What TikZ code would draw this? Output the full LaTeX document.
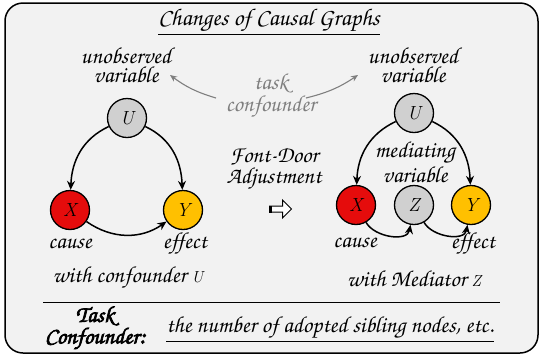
\documentclass[tikz,border=0pt]{standalone}
\usepackage[T1,TU]{fontenc}
\usetikzlibrary{arrows.meta,shapes.arrows}
\newcommand\chancery{\fontencoding{T1}\fontfamily{pzc}\fontseries{mb}\fontshape{it}\selectfont}
% plain italic for the variable letters in the captions
\newcommand\vletter[1]{{\normalfont\itshape\fontsize{16}{16}\selectfont #1}}
% stroked glyphs give the heavier weight the family lacks
\newcommand\heavy[1]{\special{pdf:literal direct 2 Tr 0.7 w}#1\special{pdf:literal direct 0 Tr}}
\definecolor{panel}{HTML}{F2F2F2}
\definecolor{causered}{HTML}{E50C0C}
\definecolor{effectyel}{HTML}{FFC000}
\definecolor{latentgray}{HTML}{D0D0D0}
\definecolor{notegray}{HTML}{7F7F7F}
\tikzset{
  var/.style={circle,draw=black,line width=1.3pt,minimum size=39pt,inner sep=0pt,font=\normalfont\itshape\fontsize{19}{19}\selectfont},
  lbl/.style={font=\chancery\fontsize{23}{18.5}\selectfont,align=center,inner sep=1pt},
  edge/.style={-{Stealth[length=9pt,width=8pt]},line width=1.5pt},
  noteedge/.style={-{Stealth[length=7pt,width=6pt]},line width=1.1pt,draw=notegray}
}
\begin{document}
\begin{tikzpicture}[x=1pt,y=-1pt]
\useasboundingbox (0,0) rectangle (542,360);
% outer panel
\draw[line width=1.5pt,fill=panel,rounded corners=18pt] (5,3) rectangle (538,353);
\node[lbl,font=\chancery\fontsize{24}{18}\selectfont] (title) at (269,22) {\underline{Changes of Causal Graphs}};

% left graph: confounder
\node[var,fill=latentgray] (U1) at (127,118) {U};
\node[var,fill=causered] (X1) at (70,210) {X};
\node[var,fill=effectyel] (Y1) at (183,210) {Y};
\node[lbl] (un1) at (126,65) {unobserved\\variable};
\node[lbl] (c1) at (70,244) {cause};
\node[lbl] (e1) at (185,244) {effect};
\node[lbl] (cap1) at (128,278) {with confounder \vletter{U}};
\draw[edge] (U1) to[out=205,in=88] (X1);
\draw[edge] (U1) to[out=-25,in=92] (Y1);
\draw[edge] (X1) to[out=-35,in=-145] (Y1);

% note in the middle, pointing at both latent labels
\node[lbl,text=notegray] (task) at (271,96) {task\\confounder};
\coordinate (tl) at (216,98);
\coordinate (tr) at (306,98);
\coordinate (ul) at (170,75);
\coordinate (ur) at (358,75);
\draw[noteedge] (tl) to[bend left=10] (ul);
\draw[noteedge] (tr) to[bend right=10] (ur);

% transform arrow
\node[lbl] (fda) at (274,169) {Font-Door\\Adjustment};
\node[single arrow,draw=black,fill=white,line width=1pt,minimum height=22pt,minimum width=18pt,single arrow head extend=3pt,inner sep=1pt] (blk) at (279,209) {};
\draw[line width=3pt] ([xshift=1.5pt]blk.before tail) -- ([xshift=1.5pt]blk.after tail);

% right graph: mediator
\node[var,fill=latentgray] (U2) at (414,113) {U};
\node[var,fill=causered] (X2) at (356,205) {X};
\node[var,fill=latentgray] (Z2) at (414,205) {Z};
\node[var,fill=effectyel] (Y2) at (471,205) {Y};
\node[lbl] (un2) at (413,65) {unobserved\\variable};
\node[lbl] (med) at (415,162) {mediating\\variable};
\node[lbl] (c2) at (355,243) {cause};
\node[lbl] (e2) at (473,244) {effect};
\node[lbl] (cap2) at (414,278) {with Mediator \vletter{Z}};
\draw[edge] (U2) to[out=205,in=88] (X2);
\draw[edge] (U2) to[out=-25,in=92] (Y2);
\draw[edge] (X2) to[out=-60,in=-100] (Z2);
\draw[edge] (Z2) to[out=-60,in=-100] (Y2);

% footer
\coordinate (ruleL) at (43,302);
\coordinate (ruleR) at (500,302);
\draw[line width=1pt] (ruleL) -- (ruleR);
\node[lbl] (tc) at (95,328) {\heavy{Task}\\\heavy{Confounder:}};
\node[lbl] (ex) at (330,329) {\underline{the number of adopted sibling nodes, etc.}};
\end{tikzpicture}
\end{document}
